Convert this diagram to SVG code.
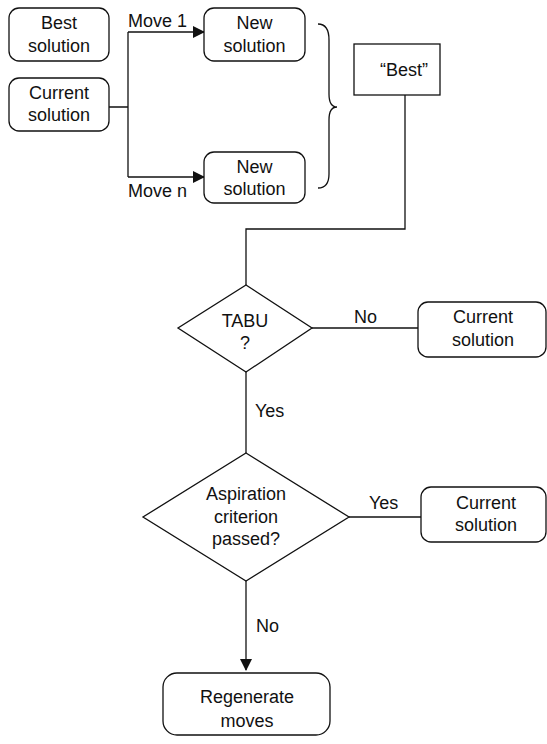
<svg xmlns="http://www.w3.org/2000/svg" width="547" height="744" viewBox="0 0 547 744">
<defs>
<style>
.box{fill:#fff;stroke:#111;stroke-width:1.3}
.ln{fill:none;stroke:#111;stroke-width:1.3}
text{font-family:"Liberation Sans",Arial,sans-serif;font-size:18px;fill:#111}
.c{text-anchor:middle}
</style>
<marker id="ah" markerWidth="12" markerHeight="12" refX="11" refY="6" orient="auto" markerUnits="userSpaceOnUse">
<path d="M0,0 L12,6 L0,12 Z" fill="#111"/>
</marker>
</defs>
<rect width="547" height="744" fill="#fff"/>
<g id="connectors">
<path class="ln" d="M109,107 H128 M128,32 V177"/>
<path class="ln" d="M128,32 H204" marker-end="url(#ah)"/>
<path class="ln" d="M128,177 H204" marker-end="url(#ah)"/>
<path class="ln" d="M318,24 Q329,24 329,40 L329,94 Q329,107 337,107 Q329,107 329,120 L329,174 Q329,188 318,188"/>
<path class="ln" d="M405,95 V229 H246 V285"/>
<path class="ln" d="M312,328 H418"/>
<path class="ln" d="M246,372 V453"/>
<path class="ln" d="M349,517 H421"/>
<path class="ln" d="M246,581 V670" marker-end="url(#ah)"/>
<text x="128" y="27">Move 1</text>
<text x="128" y="197">Move n</text>
<text x="354" y="323">No</text>
<text x="255" y="417">Yes</text>
<text x="369" y="509">Yes</text>
<text x="256" y="632">No</text>
</g>
<g id="best-solution">
<rect class="box" x="9" y="8" width="100" height="53" rx="10"/>
<text class="c" x="59" y="29">Best</text>
<text class="c" x="59" y="52">solution</text>
</g>
<g id="current-solution">
<rect class="box" x="9" y="78" width="100" height="53" rx="10"/>
<text class="c" x="59" y="99">Current</text>
<text class="c" x="59" y="121">solution</text>
</g>
<g id="new-solution-1">
<rect class="box" x="204" y="8" width="101" height="53" rx="10"/>
<text class="c" x="254.5" y="29">New</text>
<text class="c" x="254.5" y="52">solution</text>
</g>
<g id="new-solution-n">
<rect class="box" x="204" y="152" width="101" height="51" rx="10"/>
<text class="c" x="254.5" y="173">New</text>
<text class="c" x="254.5" y="195">solution</text>
</g>
<g id="best-quote">
<rect class="box" x="354" y="44" width="86" height="51"/>
<text class="c" x="404" y="76">“Best”</text>
</g>
<g id="tabu">
<polygon class="box" points="246,285 312,328 246,372 178,328"/>
<text class="c" x="245" y="327">TABU</text>
<text class="c" x="245" y="349">?</text>
</g>
<g id="current-solution-2">
<rect class="box" x="418" y="302" width="128" height="55" rx="10"/>
<text class="c" x="483" y="323">Current</text>
<text class="c" x="483" y="346">solution</text>
</g>
<g id="aspiration">
<polygon class="box" points="246,453 349,517 246,581 143,517"/>
<text class="c" x="246" y="500">Aspiration</text>
<text class="c" x="246" y="523">criterion</text>
<text class="c" x="246" y="545">passed?</text>
</g>
<g id="current-solution-3">
<rect class="box" x="421" y="487" width="125" height="55" rx="10"/>
<text class="c" x="486" y="509">Current</text>
<text class="c" x="486" y="531">solution</text>
</g>
<g id="regenerate">
<rect class="box" x="163" y="673" width="167" height="62" rx="14"/>
<text class="c" x="247" y="703">Regenerate</text>
<text class="c" x="247" y="727">moves</text>
</g>
</svg>
